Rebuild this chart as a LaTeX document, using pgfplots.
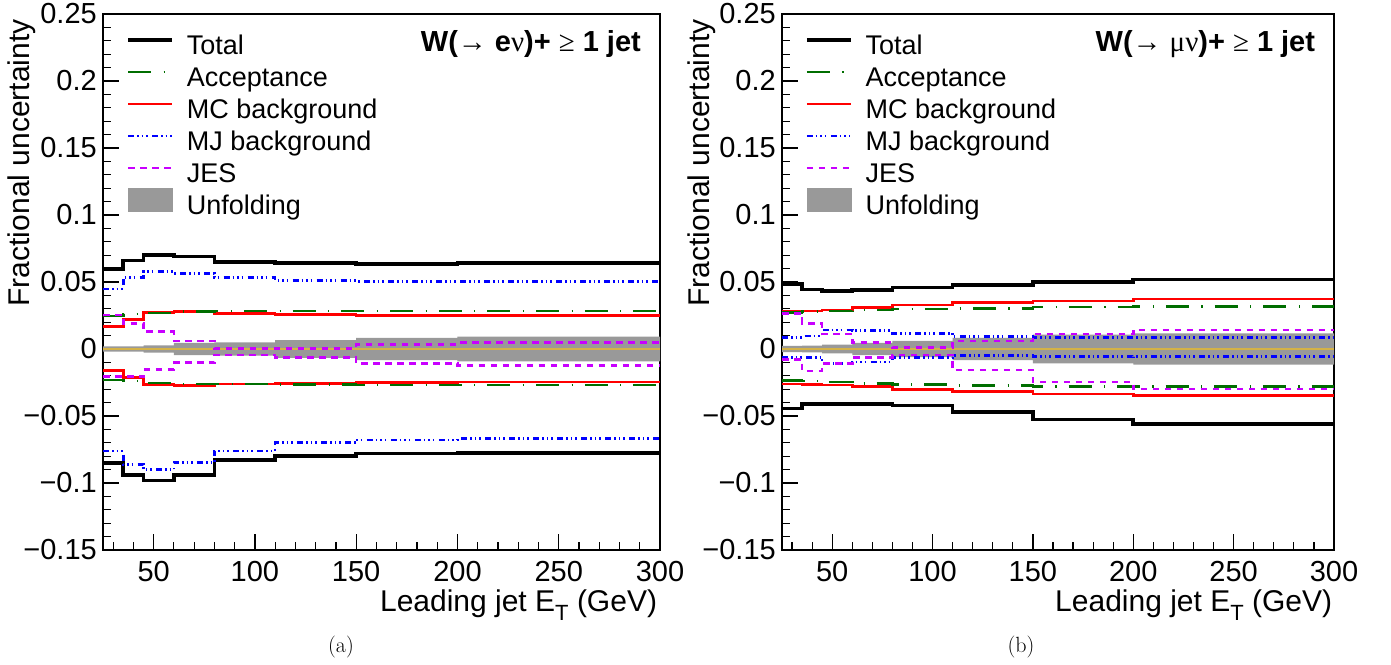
\documentclass[border=0pt]{standalone}
\usepackage{pgfplots}
\usepackage{pgfplotstable}
\pgfplotsset{compat=1.18}
\usepackage{fontspec}
\newfontfamily\arial{Liberation Sans}
\newfontfamily\symser{Liberation Serif}
\newcommand\sy[1]{{\symser\mdseries #1}}
\definecolor{accgreen}{RGB}{0,110,0}
\definecolor{mjblue}{RGB}{0,0,255}
\definecolor{mcred}{RGB}{255,0,0}
\definecolor{jesmag}{RGB}{200,0,255}
\definecolor{bandgray}{RGB}{153,153,153}
\definecolor{goldline}{RGB}{212,178,72}

% left panel: W -> e nu
\pgfplotstableread{
x   tu      td      au      ad       mu      md       ju      jd       bu      bd
25  0.0595  -0.085  0.0246  -0.023   0.0167  -0.0162  0.0254  -0.0206  0.0020  -0.0020
35  0.066   -0.094  0.026   -0.024   0.0221  -0.0211  0.0192  -0.0206  0.0020  -0.0020
45  0.070   -0.098  0.027   -0.0255  0.0271  -0.0264  0.0129  -0.0152  0.0027  -0.0027
60  0.069   -0.094  0.028   -0.026   0.0281  -0.0271  0.0060  -0.0102  0.0045  -0.0045
80  0.065   -0.083  0.0284  -0.0262  0.0266  -0.0261  0.0005  -0.0045  0.0050  -0.0050
110 0.064   -0.080  0.0284  -0.0265  0.0256  -0.0256  0.0005  -0.0062  0.0067  -0.0067
150 0.0635  -0.078  0.0284  -0.0267  0.0251  -0.0249  0.0035  -0.0107  0.0083  -0.0083
200 0.064   -0.0775 0.0285  -0.0269  0.0251  -0.0245  0.0047  -0.0124  0.0092  -0.0092
300 0.064   -0.0775 0.0285  -0.0269  0.0251  -0.0245  0.0047  -0.0124  0.0092  -0.0092
}\dataE
\pgfplotstableread{
x   mju     mjd
25  0.0448  -0.076
35  0.0532  -0.086
45  0.0577  -0.090
60  0.0565  -0.0846
80  0.0532  -0.076
110 0.051   -0.070
150 0.0505  -0.068
200 0.0505  -0.067
300 0.0505  -0.067
}\dataEmj

% right panel: W -> mu nu
\pgfplotstableread{
x   tu      td      au      ad       mu      md       ju      jd       bu      bd
25  0.0485  -0.0443 0.0274  -0.0236  0.0280  -0.0261  0.0266  -0.0080  0.0024  -0.0024
35  0.0445  -0.041  0.0278  -0.0238  0.0285  -0.0264  0.0192  -0.0164  0.0025  -0.0025
45  0.0433  -0.041  0.0284  -0.0246  0.0290  -0.0269  0.0112  -0.0107  0.0032  -0.0032
60  0.044   -0.041  0.0291  -0.0256  0.0308  -0.0281  0.0047  -0.0062  0.0045  -0.0045
80  0.046   -0.0423 0.0299  -0.0264  0.0328  -0.0301  0.0012  -0.0045  0.0060  -0.0060
110 0.0478  -0.0468 0.0303  -0.0271  0.0346  -0.0318  0.0060  -0.0157  0.0083  -0.0083
150 0.050   -0.0525 0.0313  -0.0278  0.0360  -0.0336  0.0112  -0.0246  0.0108  -0.0108
200 0.052   -0.056  0.0316  -0.0281  0.0373  -0.0346  0.0142  -0.0299  0.0116  -0.0116
300 0.052   -0.056  0.0316  -0.0281  0.0373  -0.0346  0.0142  -0.0299  0.0116  -0.0116
}\dataM
\pgfplotstableread{
x   mju     mjd
25  0.0087  -0.0062
35  0.0097  -0.0062
45  0.0142  -0.0107
60  0.0140  -0.0097
80  0.0117  -0.0065
110 0.0092  -0.0050
150 0.0087  -0.0057
200 0.0085  -0.0055
300 0.0085  -0.0055
}\dataMmj

\pgfplotsset{
  rootstyle/.style={
    scale only axis, anchor=south west,
    height=536pt,
    xmin=25, xmax=300, ymin=-0.15, ymax=0.25,
    xtick={50,100,150,200,250,300},
    xticklabels={50,100,150,200,250,300},
    minor xtick={30,40,60,70,80,90,110,120,130,140,160,170,180,190,210,220,230,240,260,270,280,290},
    ytick={-0.15,-0.1,-0.05,0,0.05,0.1,0.15,0.2,0.25},
    yticklabels={−0.15,−0.1,−0.05,0,0.05,0.1,0.15,0.2,0.25},
    minor y tick num=4,
    tick align=inside, tick pos=left,
    major tick length=16pt, minor tick length=8pt,
    every tick/.style={black, line width=1.2pt},
    axis line style={line width=1.5pt},
    ticklabel style={font=\arial\fontsize{29}{29}\selectfont},
    xticklabel style={inner ysep=0pt, yshift=-11pt},
    yticklabel style={inner xsep=0pt, xshift=-6pt},
    every axis y label/.style={at={(axis description cs:-0.145,0.99)}, rotate=90, anchor=east, inner sep=0pt, font=\arial\fontsize{30}{30}\selectfont},
    every axis x label/.style={at={(axis description cs:0.995,-0.114)}, anchor=base east, inner sep=0pt, font=\arial\fontsize{30}{30}\selectfont},
    ylabel={Fractional uncertainty},
    xlabel={Leading jet E\raisebox{-0.32em}{\fontsize{22}{22}\selectfont T} (GeV)},
    legend style={at={(axis description cs:0.036,0.9683)}, anchor=north west, draw=none, fill=none,
      font=\arial\fontsize{27}{27}\selectfont, row sep=0pt, column sep=13pt,
      nodes={inner sep=0pt, text height=21pt, text depth=11pt}},
    legend cell align=left,
    legend image code/.code={\draw[##1] (0pt,9pt) -- (44pt,9pt);},
  },
  totst/.style={black, line width=3.6pt, const plot},
  accst/.style={accgreen, line width=2.5pt, const plot, dash pattern=on 23pt off 12.5pt on 1.2pt off 12pt},
  mcst/.style={mcred, line width=2.5pt, const plot},
  mjst/.style={mjblue, line width=2.6pt, const plot, dash pattern=on 6pt off 3pt on 1.5pt off 3pt on 1.5pt off 3pt on 1.5pt off 4.5pt},
  jesst/.style={jesmag, line width=2.6pt, const plot, dash pattern=on 6.5pt off 5.5pt},
  bandst/.style={ybar interval, fill=bandgray, draw=none, forget plot},
  bandleg/.style={legend image code/.code={%
    \begin{pgfinterruptboundingbox}\fill[bandgray] (0pt,-2.5pt) rectangle (44pt,20.5pt);\end{pgfinterruptboundingbox}%
    \draw[line width=3.6pt, draw=none] (0pt,9pt) -- (44pt,9pt);}},
}

\begin{document}
\begin{tikzpicture}
\useasboundingbox (0pt,0pt) rectangle (1391pt,664pt);

% ---------------- left panel ----------------
\begin{axis}[rootstyle, at={(103pt,114pt)}, width=557pt]
\addlegendimage{totst}
\addlegendimage{accst}
\addlegendimage{mcst}
\addlegendimage{mjst}
\addlegendimage{jesst}
\addlegendimage{bandleg}
\legend{Total,Acceptance,MC background,MJ background,JES,Unfolding}

\addplot[bandst] table[x=x,y=bu] {\dataE};
\addplot[bandst] table[x=x,y=bd] {\dataE};
\addplot[goldline, line width=1.5pt, forget plot] coordinates {(25,0) (300,0)};

\addplot[totst, forget plot] table[x=x,y=tu] {\dataE};
\addplot[totst, forget plot] table[x=x,y=td] {\dataE};
\addplot[mcst, forget plot] table[x=x,y=mu] {\dataE};
\addplot[mcst, forget plot] table[x=x,y=md] {\dataE};
\addplot[accst, forget plot] table[x=x,y=au] {\dataE};
\addplot[accst, forget plot] table[x=x,y=ad] {\dataE};
\addplot[mjst, forget plot] table[x=x,y=mju] {\dataEmj};
\addplot[mjst, forget plot] table[x=x,y=mjd] {\dataEmj};
\addplot[jesst, forget plot] table[x=x,y=ju] {\dataE};
\addplot[jesst, forget plot] table[x=x,y=jd] {\dataE};

\node[anchor=east, inner sep=0pt, font=\arial\bfseries\fontsize{29}{29}\selectfont]
  at (axis description cs:0.966,0.944) {W(\sy{→} e\sy{ν})+ \sy{≥} 1 jet};
\end{axis}

% ---------------- right panel ----------------
\begin{axis}[rootstyle, at={(782pt,114pt)}, width=552pt,
  every axis x label/.append style={at={(axis description cs:0.997,-0.114)}}]
\addlegendimage{totst}
\addlegendimage{accst}
\addlegendimage{mcst}
\addlegendimage{mjst}
\addlegendimage{jesst}
\addlegendimage{bandleg}
\legend{Total,Acceptance,MC background,MJ background,JES,Unfolding}

\addplot[bandst] table[x=x,y=bu] {\dataM};
\addplot[bandst] table[x=x,y=bd] {\dataM};
\addplot[goldline, line width=1.5pt, forget plot] coordinates {(25,0) (300,0)};

\addplot[totst, forget plot] table[x=x,y=tu] {\dataM};
\addplot[totst, forget plot] table[x=x,y=td] {\dataM};
\addplot[mcst, forget plot] table[x=x,y=mu] {\dataM};
\addplot[mcst, forget plot] table[x=x,y=md] {\dataM};
\addplot[accst, forget plot] table[x=x,y=au] {\dataM};
\addplot[accst, forget plot] table[x=x,y=ad] {\dataM};
\addplot[mjst, forget plot] table[x=x,y=mju] {\dataMmj};
\addplot[mjst, forget plot] table[x=x,y=mjd] {\dataMmj};
\addplot[jesst, forget plot] table[x=x,y=ju] {\dataM};
\addplot[jesst, forget plot] table[x=x,y=jd] {\dataM};

\node[anchor=east, inner sep=0pt, font=\arial\bfseries\fontsize{29}{29}\selectfont]
  at (axis description cs:0.966,0.944) {W(\sy{→} \sy{μν})+ \sy{≥} 1 jet};
\end{axis}

\node[font=\fontsize{22}{22}\selectfont] at (341pt,17pt) {(a)};
\node[font=\fontsize{22}{22}\selectfont] at (1021pt,17pt) {(b)};
\end{tikzpicture}
\end{document}
